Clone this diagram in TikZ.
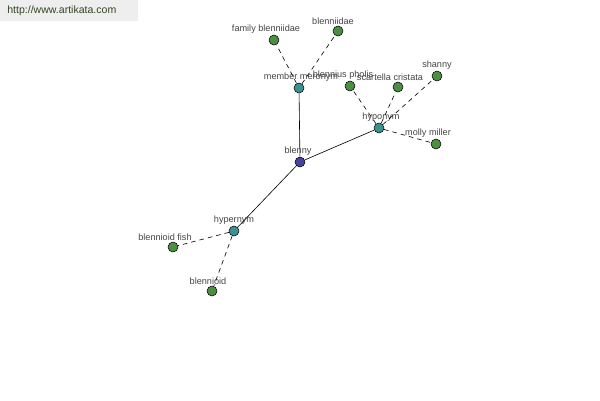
\documentclass[tikz,border=0pt]{standalone}
\usepackage{fontspec}
\setmainfont{Liberation Sans}
\usepackage{xcolor}
\usepackage{tikz}
\usetikzlibrary{positioning}

\definecolor{rootblue}{HTML}{4444A0}
\definecolor{relteal}{HTML}{3C9090}
\definecolor{leafgreen}{HTML}{4C8E42}
\definecolor{lbltext}{HTML}{444444}
\definecolor{headbg}{HTML}{EEEEEE}
\definecolor{headtext}{HTML}{334422}

\begin{document}
\begin{tikzpicture}[x=0.02cm, y=-0.02cm,
    dot/.style={circle, draw=black, line width=0.3pt, minimum size=0.2cm, inner sep=0pt},
    rootdot/.style={dot, fill=rootblue},
    reldot/.style={dot, fill=relteal},
    leafdot/.style={dot, fill=leafgreen},
    lbl/.style={font=\fontsize{5.2}{6}\selectfont, text=lbltext, inner sep=0.5pt},
    link/.style={line width=0.35pt},
    weak/.style={line width=0.35pt, dash pattern=on 2.6pt off 2.3pt}]
    \useasboundingbox (0, 0) rectangle (600, 400);
    \fill[headbg] (0, 0) rectangle (138, 21);
    \node[anchor=west, font=\fontsize{6}{7}\selectfont, text=headtext, inner sep=0pt] (site) at (7, 11) {http://www.artikata.com};

    % centre
    \node[rootdot, label={[lbl, xshift=-2*0.02cm]above:blenny}] (blenny) at (300, 162) {};

    % relations
    \node[reldot, label={[lbl, xshift=2*0.02cm]above:member meronym}] (meronym) at (299, 88) {};
    \node[reldot, label={[lbl, xshift=2*0.02cm]above:hyponym}] (hyponym) at (379, 128) {};
    \node[reldot, label={[lbl]above:hypernym}] (hypernym) at (234, 231) {};

    % words
    \node[leafdot, label={[lbl, xshift=-8*0.02cm]above:family blenniidae}] (famblen) at (274, 40) {};
    \node[leafdot, label={[lbl, xshift=-5*0.02cm]above:blenniidae}] (blenniidae) at (338, 31) {};
    \node[leafdot, label={[lbl, xshift=-7*0.02cm]above:blennius pholis}] (pholis) at (350, 86) {};
    \node[leafdot, label={[lbl, xshift=-8*0.02cm]above:scartella cristata}] (scartella) at (398, 87) {};
    \node[leafdot, label={[lbl]above:shanny}] (shanny) at (437, 76) {};
    \node[leafdot, label={[lbl, xshift=-8*0.02cm]above:molly miller}] (molly) at (436, 144) {};
    \node[leafdot, label={[lbl, xshift=-8*0.02cm]above:blennioid fish}] (blenfish) at (173, 247) {};
    \node[leafdot, label={[lbl, xshift=-4*0.02cm]above:blennioid}] (blennioid) at (212, 291) {};

    % links
    \foreach \to in {meronym, hyponym, hypernym}
        \draw[link] (blenny) -- (\to);
    \foreach \from/\to in {meronym/famblen, meronym/blenniidae,
                           hyponym/pholis, hyponym/scartella, hyponym/shanny, hyponym/molly,
                           hypernym/blenfish, hypernym/blennioid}
        \draw[weak] (\from) -- (\to);
\end{tikzpicture}
\end{document}
